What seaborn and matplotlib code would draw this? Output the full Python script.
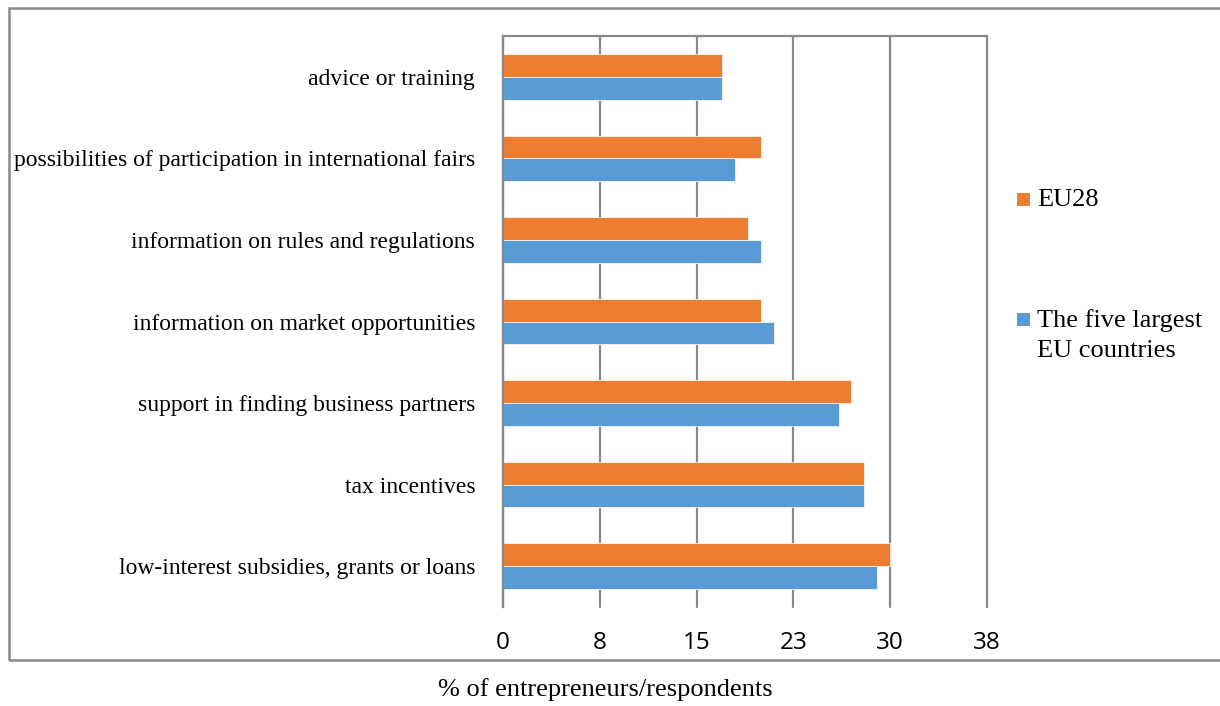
import matplotlib
matplotlib.use('Agg')
import matplotlib.pyplot as plt
import seaborn as sns
import pandas as pd
import numpy as np
from matplotlib.patches import Rectangle

# data
categories = [
    "advice or training",
    "possibilities of participation in international fairs",
    "information on rules and regulations",
    "information on market opportunities",
    "support in finding business partners",
    "tax incentives",
    "low-interest subsidies, grants or loans",
]
eu28 = [17, 20, 19, 20, 27, 28, 30]
five_largest = [17, 18, 20, 21, 26, 28, 29]
series = ["EU28", "The five largest\nEU countries"]
xticks = [0, 7.5, 15, 22.5, 30, 37.5]
xtick_labels = ["0", "8", "15", "23", "30", "38"]

df = pd.DataFrame({
    "category": categories * 2,
    "value": eu28 + five_largest,
    "series": [series[0]] * len(categories) + [series[1]] * len(categories),
})

colors = {series[0]: "#ED7D31", series[1]: "#5B9BD5"}
grey = "#898989"
serif = ["Liberation Serif", "DejaVu Serif"]

sns.set_style("white")
plt.rcParams["text.color"] = "black"
plt.rcParams["xtick.color"] = "black"
plt.rcParams["ytick.color"] = "black"

fig = plt.figure(figsize=(12.2, 7.06), dpi=100)
ax = fig.add_axes([503 / 1220, 1 - 607 / 706, 484 / 1220, 571 / 706])

sns.barplot(data=df, y="category", x="value", hue="series", order=categories,
            hue_order=series, palette=colors, orient="h", width=0.56,
            saturation=1, edgecolor="#f4f4f4", linewidth=0.6, ax=ax, legend=False)

ax.set_xlim(0, 37.5)
ax.set_ylim(len(categories) - 0.5, -0.5)
ax.set_xticks(xticks)
ax.set_xticklabels(xtick_labels, fontsize=17.5, family=["Open Sans", "DejaVu Sans"])
ax.tick_params(axis="x", length=0, pad=17)
ax.grid(axis="x", color=grey, linewidth=1.6)
for gl in ax.get_xgridlines():
    gl.set_clip_on(False)
ax.set_axisbelow(True)

ax.set_yticks(range(len(categories)))
ax.set_yticklabels(categories, fontsize=17, family=serif)
ax.tick_params(axis="y", which="major", length=0, pad=20)
ax.set_yticks(np.arange(-0.5, len(categories), 1), minor=True)
ax.tick_params(axis="y", which="minor", length=7, width=1.6, color=grey)

ax.set_xlabel("")
ax.set_ylabel("")
for side in ["left", "top"]:
    ax.spines[side].set_color(grey)
    ax.spines[side].set_linewidth(1.6)
ax.spines["right"].set_visible(False)
ax.spines["bottom"].set_visible(False)

# legend on the right
legend_rows = [(series[0], 200), (series[1], 320)]
for name, ypx in legend_rows:
    fig.patches.append(Rectangle((1017 / 1220, 1 - (ypx + 6) / 706), 13 / 1220, 13 / 706,
                                 transform=fig.transFigure, facecolor=colors[name],
                                 edgecolor="none"))
    fig.text(1037 / 1220, 1 - (ypx - 11) / 706, name, ha="left", va="top",
             fontsize=19, family=serif, linespacing=1.45)

fig.text(605 / 1220, 1 - 690 / 706, "% of entrepreneurs/respondents",
         ha="center", va="center", fontsize=19, family=serif)

# chart border
fig.patches.append(Rectangle((9 / 1220, 1 - 660 / 706), 1.0, 652 / 706,
                             transform=fig.transFigure, fill=False,
                             edgecolor=grey, linewidth=1.8))

fig.savefig("out.png", dpi=100)
